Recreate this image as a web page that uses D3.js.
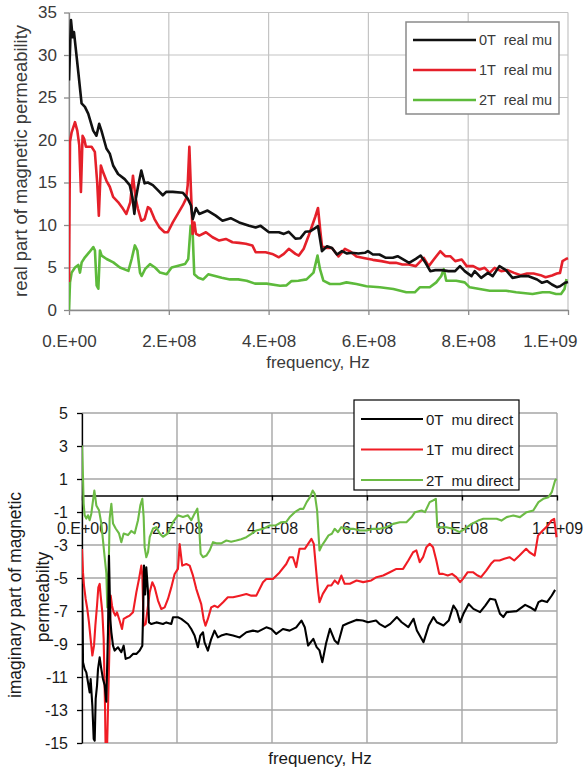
<!DOCTYPE html>
<html>
<head>
<meta charset="utf-8">
<script src="https://cdn.jsdelivr.net/npm/d3@7"></script>
<style>
  html, body { margin: 0; padding: 0; background: #fff; }
  svg { display: block; }
  text { font-family: "Liberation Sans", Arial, Helvetica, sans-serif; }
</style>
</head>
<body>
<svg id="chart" width="584" height="770"></svg>
<script>
// Frequencies are in MHz; permeability values are dimensionless.

// ---- real part of magnetic permeability ----
const real0T = [[0,27.0],[2,30.5],[4,34.1],[7.3,32.1],[10,32.7],[18.6,28.0],[25.2,24.3],[31.9,23.9],[38.5,23.1],[48.5,21.1],[55,20.5],[60.5,21.9],[65,21.1],[75,19.0],[81.7,18.4],[88.4,17.0],[98.3,16.0],[111.6,15.4],[121.6,14.7],[127,13.3],[131,11.3],[134,13.1],[138.2,14.5],[144.9,16.4],[151.5,14.9],[158,15.0],[168,14.7],[178,14.1],[188,13.5],[194.7,13.9],[208,13.9],[228,13.8],[238,13.1],[244.5,12.3],[248,10.7],[254.5,12.0],[261,11.3],[277.7,11.7],[294,11.1],[307.6,10.5],[324,10.8],[341,10.3],[361,9.9],[374,9.7],[384,9.9],[400.7,9.15],[420.6,9.15],[430.6,8.95],[440.5,9.2],[453.8,8.4],[463.8,8.45],[473.8,9.2],[483.7,9.27],[494,9.67],[499,9.86],[507,6.92],[517,7.5],[527,7.3],[537,6.53],[547,6.92],[557,6.65],[566,6.73],[580,6.65],[593,6.73],[599,6.92],[609,6.53],[622,6.53],[635,6.14],[649,6.14],[658.5,6.33],[668,6.02],[681.6,5.55],[695,6.02],[704.6,6.41],[714.5,5.55],[724,4.57],[734,4.69],[747,4.69],[760.5,4.57],[773.7,4.57],[783.5,5.16],[793,4.57],[806.6,3.98],[813,4.57],[826,3.78],[839.5,4.37],[849,3.98],[862.5,5.16],[875.7,4.69],[888.8,3.78],[905,3.98],[921,3.98],[938,3.59],[948,3.2],[957.9,3.39],[967.8,3.0],[977.6,2.69],[984,2.8],[994,3.2],[1000,3.3]];
const real1T = [[0,3.3],[2,19.8],[5.3,20.9],[12,22.1],[16.6,21.1],[20.6,19.4],[23.9,13.9],[27.2,20.5],[30.6,20.1],[33.9,19.2],[45.2,19.2],[51.8,18.6],[56.5,15.0],[59.8,11.1],[63.8,17.0],[68.4,16.2],[75.1,15.2],[81.7,14.5],[88.4,13.3],[98.3,12.7],[108.3,11.9],[115,11.3],[122.9,12.7],[128.2,15.8],[133.6,13.1],[138.2,11.9],[144.9,10.5],[151.5,10.7],[158.1,12.1],[162.8,11.9],[171.4,10.7],[181.4,9.7],[191.4,9.15],[198,9.15],[208,10.3],[218,11.3],[227.9,12.3],[234.6,13.1],[237.9,14.7],[241.2,19.2],[244.5,13.9],[247.8,8.95],[251.2,10.3],[254.5,8.95],[261.1,8.76],[274.4,9.15],[287.7,8.56],[301,8.17],[314.3,8.36],[327.6,7.97],[340.9,7.9],[354.2,7.8],[367.4,7.6],[374.1,6.8],[394,6.8],[407.3,6.6],[420.6,6.2],[430.6,6.6],[440.5,7.2],[453.8,6.6],[460.5,6.4],[470.4,7.2],[480.4,8.76],[493.7,11.0],[499,12.0],[504,9.1],[507,7.5],[517,7.3],[527,7.3],[540,6.3],[553,7.2],[563,6.9],[576,6.3],[593,6.1],[609,5.9],[626,5.75],[642,5.55],[655,5.55],[668,5.35],[681,5.35],[695,5.16],[711,6.14],[721,5.16],[731,5.94],[744,6.92],[754,6.33],[764,6.33],[774,5.75],[787,5.94],[797,5.16],[810,5.16],[823,4.76],[833,4.96],[843,4.37],[853,4.96],[866,4.57],[879,4.69],[892,4.37],[905,4.1],[918,4.29],[931,4.29],[945,4.1],[955,3.86],[968,4.06],[977.6,4.29],[984,4.37],[989,5.75],[996,6.0],[1000,6.1]];
const real2T = [[0,0],[2,3.25],[5.3,4.4],[12,5.0],[18.6,5.3],[22,4.4],[25.4,5.6],[32,6.2],[40.7,6.8],[48.7,7.4],[52,7.0],[55.4,2.9],[58.8,2.5],[62,7.0],[65.4,6.4],[75.4,6.0],[88.8,5.6],[102,5.0],[119,4.6],[125.6,6.0],[132,7.6],[137,7.0],[142.3,4.4],[145.6,4.0],[152.3,4.8],[162.3,5.4],[172.4,5.0],[182.4,4.4],[195.7,4.2],[205.7,5.0],[219,5.2],[232.4,5.4],[239,6.0],[243.8,9.9],[247.8,9.1],[251,4.2],[259,3.8],[269,3.6],[279,4.2],[292.6,4.0],[306,3.8],[322.6,3.6],[339,3.6],[356,3.45],[372.7,3.1],[396,3.1],[423,2.86],[436,2.9],[446,3.4],[459.6,3.45],[476,3.6],[490,4.4],[498,6.4],[503,4.8],[509.7,3.45],[523,3.06],[543,3.06],[556,3.25],[576,3.06],[596,2.8],[623,2.67],[650,2.47],[676,2.08],[693,2.08],[703,2.67],[723,2.67],[736,3.25],[746,4.0],[751,4.8],[756,3.45],[776,3.45],[793,3.25],[803,2.67],[823,2.47],[843,2.27],[876,2.27],[896,2.08],[929,1.88],[949,2.08],[963,2.08],[976,1.88],[986,1.88],[993,2.47],[997,3.65]];

// ---- imaginary part of magnetic permeability ----
const imag0T = [[0,-5.36],[1.4,-7.69],[2.1,-10.11],[5.6,-10.52],[9.1,-10.72],[12.6,-11.32],[16.1,-11.93],[18.2,-11.12],[21.8,-12.74],[24.6,-14.76],[26.7,-14.86],[28.8,-12.33],[31.6,-11.53],[33.7,-10.52],[37.2,-9.81],[40.7,-10.52],[44.2,-11.12],[47.7,-11.5],[51.2,-12.5],[54.7,-8.3],[56.8,-3.65],[59.6,-7.5],[61.8,-8.29],[65.3,-9.1],[68.8,-9.4],[75.8,-9.2],[82.8,-9.5],[87.7,-9.1],[91.9,-9.9],[100.4,-9.81],[107.4,-9.6],[114.4,-9.6],[121.4,-9.4],[127,-9.1],[128.4,-7.48],[130.5,-4.25],[133,-6.0],[135.4,-4.35],[139,-5.87],[141,-7.69],[146,-7.79],[156.5,-7.69],[170.5,-7.79],[177.5,-7.69],[188,-7.79],[191.6,-7.38],[202,-7.38],[209,-7.48],[223,-7.79],[230,-8.09],[237,-8.49],[244,-9.2],[249,-8.49],[254.7,-8.29],[258,-8.9],[265,-9.4],[272,-8.7],[279,-8.19],[286,-8.6],[293,-8.49],[304,-8.39],[318,-8.49],[332,-8.6],[346,-8.29],[360,-8.19],[370.5,-8.25],[388,-7.99],[398.6,-8.09],[409,-8.39],[423,-8.09],[437,-8.19],[451,-7.99],[462,-7.58],[469,-7.98],[476,-9.09],[487,-8.69],[494,-9.19],[500,-9.39],[506,-10.1],[513.6,-8.99],[522,-8.08],[532,-8.79],[539,-8.99],[549.5,-7.88],[560,-7.74],[577.5,-7.54],[591,-7.58],[602,-7.68],[619,-7.58],[626,-7.78],[638,-7.98],[649,-7.78],[663,-7.37],[673,-7.68],[687,-7.98],[698,-7.47],[705,-8.18],[719,-8.89],[730,-7.88],[740,-7.37],[747,-7.68],[761,-7.88],[772,-7.58],[782,-6.67],[789,-6.97],[796,-7.68],[803,-7.17],[814,-6.57],[824,-6.87],[838,-7.07],[849,-6.67],[859,-6.26],[870,-6.32],[880,-7.17],[887,-7.37],[894,-7.07],[915,-7.01],[933,-6.63],[943,-6.77],[954,-6.97],[961,-6.46],[968,-6.36],[979,-6.46],[989,-6.06],[996,-5.72]];
const imag1T = [[0,-3.24],[2.1,-4.66],[4.2,-5.46],[7.7,-6.27],[11.2,-6.88],[14.7,-7.69],[18.2,-8.7],[21.8,-9.7],[25.3,-9.1],[28.1,-7.89],[31.6,-6.68],[34.4,-5.57],[37.2,-5.36],[39.3,-6.07],[42.8,-7.08],[45.6,-8.7],[48.4,-12.7],[49.8,-15.5],[52.6,-15.5],[55.4,-12.1],[58.2,-8.7],[60.4,-6.07],[63.2,-6.68],[66.7,-7.08],[70.2,-7.28],[73.7,-7.08],[79.3,-7.59],[84.2,-8.09],[87.7,-7.48],[93.3,-7.38],[100.4,-7.28],[107.4,-7.08],[114.4,-5.87],[120,-5.06],[124.9,-4.25],[127,-4.86],[129.8,-7.89],[134,-7.79],[139,-6.68],[142.5,-5.87],[148,-5.26],[153,-5.57],[160,-6.37],[167,-6.88],[174,-6.78],[181,-6.27],[188,-5.57],[195,-4.76],[202,-4.45],[205.6,-2.94],[211,-4.25],[219.6,-4.15],[226.7,-4.25],[233.7,-4.86],[240.7,-5.67],[246.3,-6.17],[251,-6.58],[256,-7.48],[260,-7.89],[265,-7.48],[272,-6.78],[279,-6.68],[286,-6.78],[297,-6.47],[307,-6.17],[318,-6.17],[332,-6.07],[346,-5.97],[356.5,-6.07],[367,-6.07],[381,-5.26],[388,-5.06],[402,-5.06],[416,-4.66],[430,-4.15],[437,-3.74],[444,-3.74],[451,-4.34],[458,-3.23],[469,-3.23],[476,-2.93],[483,-2.63],[488,-2.93],[493,-4.55],[497,-5.76],[500,-6.46],[507,-5.96],[518,-5.45],[525,-5.45],[532,-5.15],[539,-5.35],[546,-4.85],[553,-5.35],[564,-5.35],[578,-5.15],[592,-5.25],[609,-5.15],[620,-4.95],[634,-4.85],[648,-4.65],[662,-4.45],[676,-4.45],[687,-3.94],[697,-3.44],[704,-3.33],[711,-4.04],[718,-3.74],[725,-3.13],[732,-2.93],[739,-3.13],[746,-3.94],[752,-4.75],[760,-4.75],[770,-4.85],[779,-4.75],[788,-4.95],[796,-5.25],[802,-5.05],[812,-4.65],[823,-4.65],[833,-4.85],[840,-4.95],[851,-4.55],[861,-4.14],[868,-3.94],[879,-3.94],[889,-3.84],[900,-3.74],[910,-3.94],[921,-3.64],[935,-3.23],[942,-3.44],[953,-3.64],[960,-2.43],[970,-2.12],[981,-1.82],[988,-1.52],[994,-1.41],[999,-2.53]];
const imag2T = [[0,3.03],[2.1,1.1],[3.5,-0.5],[5.6,-1.2],[9.1,-1.4],[12.6,-1.2],[16.1,-1.5],[19.6,-1.1],[23.2,-0.3],[26,0.3],[28.8,-0.3],[30.2,-0.6],[35.8,-0.9],[40.7,-1.7],[47.7,-3.74],[51.2,-4.7],[53.3,-6.78],[56.1,-4.5],[58.2,-1.4],[61.8,-0.5],[65.3,-1.7],[70.9,-2.0],[77.9,-2.3],[82.8,-2.83],[87.7,-2.3],[96.8,-2.4],[103.9,-2.15],[110.9,-2.3],[117.9,-1.5],[122.8,-0.6],[127,-0.2],[129.8,-1.3],[131.9,-3.13],[135.4,-3.74],[139,-3.44],[142.5,-2.53],[149.5,-2.0],[156.5,-1.92],[163.5,-2.3],[170.5,-2.5],[181,-2.3],[191.6,-1.62],[202,-1.2],[212.6,-1.3],[223,-1.2],[230,-1.5],[237,-1.1],[242.8,-0.8],[246.3,-1.7],[249.8,-3.53],[254.7,-3.74],[261.8,-3.64],[268.8,-3.33],[275.8,-2.83],[282.8,-2.9],[293,-2.9],[304,-2.73],[314,-2.8],[325,-2.73],[335,-2.65],[346,-2.53],[356.5,-2.33],[367,-2.12],[381,-2.02],[395,-1.82],[409,-1.8],[419.6,-1.62],[430,-1.6],[437,-1.32],[448,-1.01],[459,-0.81],[466,-0.81],[473,-0.4],[480,-0.1],[485.6,0.3],[490,0.1],[495,-0.91],[500,-3.33],[505,-3.03],[512,-2.73],[519,-2.42],[526,-2.32],[532,-2.02],[539,-2.22],[546,-1.92],[557,-2.02],[571,-2.02],[585,-2.12],[599,-2.12],[613,-2.02],[627,-2.02],[641,-1.92],[655,-1.72],[669,-1.62],[683,-1.62],[694,-1.31],[701,-1.01],[715,-0.91],[722,-1.01],[732,-0.4],[739,-0.3],[745,-0.2],[748,-1.92],[753,-1.92],[767,-1.92],[781,-2.02],[795,-2.22],[806,-2.02],[820,-1.72],[834,-1.52],[845,-1.41],[859,-1.41],[873,-1.41],[883,-1.52],[894,-1.31],[908,-1.21],[922,-1.31],[936,-1.01],[950,-0.91],[961,-0.4],[971,-0.2],[982,-0.1],[989,0.2],[996,0.91],[999,1.0]];

// ---- ticks and labels ----
const freqTicks = [0, 200, 400, 600, 800, 1000];
const freqLabels = ["0.E+00", "2.E+08", "4.E+08", "6.E+08", "8.E+08", "1.E+09"];
const realTicks = [0, 5, 10, 15, 20, 25, 30, 35];
const imagTicks = [5, 3, 1, -1, -3, -5, -7, -9, -11, -13, -15];
const realNames = ["0T  real mu", "1T  real mu", "2T  real mu"];
const imagNames = ["0T  mu direct", "1T  mu direct", "2T  mu direct"];
const topColors = ["#111111", "#e5202a", "#5dba3b"];
const botColors = ["#000000", "#f01c24", "#6cbb45"];

const svg = d3.select("#chart");
const defs = svg.append("defs");

// ================= upper chart =================
const xTop = d3.scaleLinear().domain([0, 1000]).range([69, 568]);
const yTop = d3.scaleLinear().domain([0, 35]).range([310, 12.5]);
const gTop = svg.append("g");

defs.append("clipPath").attr("id", "clipTop").append("rect")
  .attr("x", xTop(0)).attr("y", yTop(35) - 2)
  .attr("width", xTop(1000) - xTop(0) + 2).attr("height", yTop(0) - yTop(35) + 2);

gTop.append("g").selectAll("line").data(realTicks).join("line")
  .attr("x1", xTop(0)).attr("x2", xTop(1000))
  .attr("y1", d => yTop(d)).attr("y2", d => yTop(d))
  .attr("stroke", "#c4c4c4").attr("stroke-width", 1.2);
gTop.append("g").selectAll("line").data(freqTicks).join("line")
  .attr("x1", d => xTop(d)).attr("x2", d => xTop(d))
  .attr("y1", yTop(0)).attr("y2", yTop(35))
  .attr("stroke", "#c4c4c4").attr("stroke-width", 1.2);

const axTopY = gTop.append("g").attr("transform", `translate(${xTop(0)},0)`)
  .call(d3.axisLeft(yTop).tickValues(realTicks).tickSize(5).tickSizeOuter(0).tickPadding(7));
const axTopX = gTop.append("g").attr("transform", `translate(0,${yTop(0)})`)
  .call(d3.axisBottom(xTop).tickValues(freqTicks).tickSize(5).tickSizeOuter(0).tickPadding(20)
    .tickFormat((d, i) => freqLabels[i]));
[axTopY, axTopX].forEach(a => {
  a.select(".domain").attr("stroke", "#8a8a8a").attr("stroke-width", 1.3);
  a.selectAll(".tick line").attr("stroke", "#8a8a8a").attr("stroke-width", 1.3);
  a.selectAll("text").attr("fill", "#3a3a3a").attr("font-size", 17)
    .attr("font-family", "'Liberation Sans', Arial, sans-serif");
});
// last frequency label stays inside the page
axTopX.selectAll(".tick").filter(d => d === 1000).select("text")
  .attr("text-anchor", "end").attr("x", 577 - xTop(1000));

const lineTop = d3.line().x(d => xTop(d[0])).y(d => yTop(d[1]));
gTop.append("g").attr("clip-path", "url(#clipTop)")
  .selectAll("path").data([real2T, real1T, real0T]).join("path")
  .attr("d", lineTop).attr("fill", "none")
  .attr("stroke", (d, i) => topColors[2 - i]).attr("stroke-width", 2.6)
  .attr("stroke-linejoin", "round");

gTop.append("text").attr("x", 318).attr("y", 368).attr("text-anchor", "middle")
  .attr("font-size", 17).attr("fill", "#3a3a3a").text("frequency, Hz");
gTop.append("text").attr("transform", "translate(27,161) rotate(-90)")
  .attr("text-anchor", "middle").attr("font-size", 18.4).attr("fill", "#3a3a3a")
  .text("real part of magnetic permeability");

const legTop = gTop.append("g");
legTop.append("rect").attr("x", 406).attr("y", 22).attr("width", 153).attr("height", 92)
  .attr("fill", "#fff").attr("stroke", "#8a8a8a").attr("stroke-width", 1.5);
realNames.forEach((name, i) => {
  const y = 40 + i * 30;
  legTop.append("line").attr("x1", 413).attr("x2", 476).attr("y1", y).attr("y2", y)
    .attr("stroke", topColors[i]).attr("stroke-width", 2.6);
  legTop.append("text").attr("x", 479).attr("y", y + 5).attr("font-size", 14.5)
    .attr("fill", "#3a3a3a").style("white-space", "pre").text(name);
});

// ================= lower chart =================
const xBot = d3.scaleLinear().domain([0, 1000]).range([82, 557]);
const yBot = d3.scaleLinear().domain([-15, 5]).range([743, 413]);
const gBot = svg.append("g");

defs.append("clipPath").attr("id", "clipBot").append("rect")
  .attr("x", xBot(0)).attr("y", yBot(5))
  .attr("width", xBot(1000) - xBot(0) + 2).attr("height", yBot(-15) - yBot(5));

gBot.append("g").selectAll("line").data(imagTicks).join("line")
  .attr("x1", xBot(0)).attr("x2", xBot(1000))
  .attr("y1", d => yBot(d)).attr("y2", d => yBot(d))
  .attr("stroke", "#a6a6a6").attr("stroke-width", 1.4);
gBot.append("g").selectAll("line").data(freqTicks).join("line")
  .attr("x1", d => xBot(d)).attr("x2", d => xBot(d))
  .attr("y1", yBot(-15)).attr("y2", yBot(5))
  .attr("stroke", "#a6a6a6").attr("stroke-width", 1.4);

const axBotY = gBot.append("g").attr("transform", `translate(${xBot(0)},0)`)
  .call(d3.axisLeft(yBot).tickValues(imagTicks).tickSize(5).tickSizeOuter(0).tickPadding(9)
    .tickFormat(d => d));
const axBotX = gBot.append("g").attr("transform", `translate(0,${yBot(0)})`)
  .call(d3.axisBottom(xBot).tickValues(freqTicks).tickSize(5).tickSizeOuter(0).tickPadding(22)
    .tickFormat((d, i) => freqLabels[i]));
[axBotY, axBotX].forEach(a => {
  a.select(".domain").attr("stroke", "#000").attr("stroke-width", 1.3);
  a.selectAll(".tick line").attr("stroke", "#000").attr("stroke-width", 1.3);
  a.selectAll("text").attr("fill", "#1a1a1a").attr("font-size", 16)
    .attr("font-family", "'Liberation Sans', Arial, sans-serif");
});

const lineBot = d3.line().x(d => xBot(d[0])).y(d => yBot(d[1]));
gBot.append("g").attr("clip-path", "url(#clipBot)")
  .selectAll("path").data([imag2T, imag1T, imag0T]).join("path")
  .attr("d", lineBot).attr("fill", "none")
  .attr("stroke", (d, i) => botColors[2 - i]).attr("stroke-width", 2.1)
  .attr("stroke-linejoin", "round");

gBot.append("text").attr("x", 320).attr("y", 764).attr("text-anchor", "middle")
  .attr("font-size", 17).attr("fill", "#1a1a1a").text("frequency, Hz");
gBot.append("text").attr("transform", "translate(21,595) rotate(-90)")
  .attr("text-anchor", "middle").attr("font-size", 17.5).attr("fill", "#1a1a1a")
  .text("imaginary part of magnetic");
gBot.append("text").attr("transform", "translate(49,597) rotate(-90)")
  .attr("text-anchor", "middle").attr("font-size", 17.5).attr("fill", "#1a1a1a")
  .text("permeabilty");

const legBot = gBot.append("g");
legBot.append("rect").attr("x", 354).attr("y", 400).attr("width", 165).attr("height", 90)
  .attr("fill", "#fff").attr("stroke", "#000").attr("stroke-width", 1.2);
imagNames.forEach((name, i) => {
  const y = 419 + i * 30.5;
  legBot.append("line").attr("x1", 361).attr("x2", 423).attr("y1", y).attr("y2", y)
    .attr("stroke", botColors[i]).attr("stroke-width", 2.1);
  legBot.append("text").attr("x", 426).attr("y", y + 5.5).attr("font-size", 15)
    .attr("fill", "#1a1a1a").style("white-space", "pre").text(name);
});
</script>
</body>
</html>
